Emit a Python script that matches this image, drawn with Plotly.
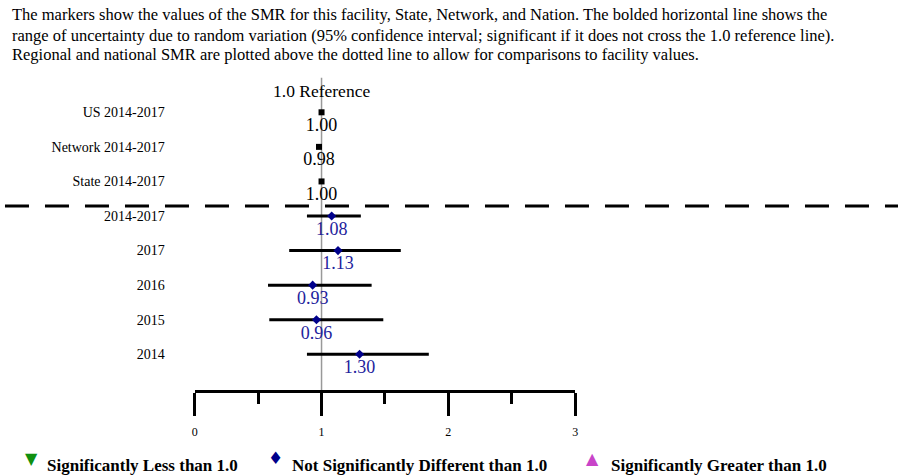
import plotly.graph_objects as go

# ---- data ----
row_labels = ["US 2014-2017", "Network 2014-2017", "State 2014-2017",
              "2014-2017", "2017", "2016", "2015", "2014"]
smr = [1.00, 0.98, 1.00, 1.08, 1.13, 0.93, 0.96, 1.30]
ci_low = [None, None, None, 0.885, 0.745, 0.578, 0.588, 0.885]
ci_high = [None, None, None, 1.31, 1.625, 1.395, 1.487, 1.846]
n_ref = 3  # first three rows are reference (US, Network, State)
x_ticks = [0, 1, 2, 3]
x_tick_labels = ["0", "1", "2", "3"]

W, H = 901, 475
SERIF = "Liberation Serif, Times New Roman, serif"
BLUE = "#00008B"
BLUE_TXT = "#22229c"

rows = list(range(len(row_labels)))
ref_rows = rows[:n_ref]
fac_rows = rows[n_ref:]

fig = go.Figure()

# reference vertical line at 1.0
fig.add_trace(go.Scatter(x=[1, 1], y=[-1, 9], mode="lines",
                         line=dict(color="#999999", width=1.5),
                         hoverinfo="skip", showlegend=False))

# reference rows (US / Network / State)
fig.add_trace(go.Scatter(
    x=smr[:n_ref], y=ref_rows, mode="markers+text",
    marker=dict(symbol="square", size=6, color="black"),
    text=[f"{v:.2f}" for v in smr[:n_ref]], textposition="bottom center",
    textfont=dict(family=SERIF, size=18, color="black"),
    showlegend=False))

# facility rows with CI
lo = ci_low[n_ref:]
hi = ci_high[n_ref:]
vals = smr[n_ref:]
fig.add_trace(go.Scatter(
    x=vals, y=fac_rows, mode="markers+text",
    marker=dict(symbol="diamond", size=7, color=BLUE),
    error_x=dict(type="data", symmetric=False,
                 array=[h - v for h, v in zip(hi, vals)],
                 arrayminus=[v - l for l, v in zip(lo, vals)],
                 color="black", thickness=3, width=0),
    text=[f"{v:.2f}" for v in vals], textposition="bottom center",
    textfont=dict(family=SERIF, size=18, color=BLUE_TXT),
    showlegend=False))

ax_px0, ax_px3 = 193, 576
plot_bottom_px = 390
row0_px, row_step = 112.3, 34.57
y_bottom = (plot_bottom_px - row0_px) / row_step
y_top = (0 - row0_px) / row_step

fig.update_layout(
    width=W, height=H,
    margin=dict(l=0, r=0, t=0, b=0),
    paper_bgcolor="white", plot_bgcolor="white",
    font=dict(family=SERIF, color="black"),
    xaxis=dict(domain=[ax_px0 / W, ax_px3 / W], range=[0, 3],
               showgrid=False, zeroline=False, showline=True,
               linecolor="black", linewidth=2.5,
               ticks="outside", ticklen=23, tickwidth=2.5, tickcolor="black",
               tickvals=x_ticks, ticktext=x_tick_labels,
               tickfont=dict(family=SERIF, size=12, color="black"),
               ticklabelstandoff=6,
               minor=dict(dtick=0.5, ticks="outside", ticklen=11,
                          tickwidth=2.5, tickcolor="black", showgrid=False)),
    yaxis=dict(domain=[(H - plot_bottom_px) / H, 1],
               range=[y_bottom, y_top],
               showgrid=False, zeroline=False, showline=False,
               tickvals=rows, ticktext=row_labels, ticks="",
               tickfont=dict(family=SERIF, size=14, color="black"),
               ticklabelstandoff=29),
    showlegend=False,
)

# dashed separator line
sep_y = (206 - row0_px) / row_step
fig.add_shape(type="line", xref="paper", yref="y", x0=2 / W, x1=1, y0=sep_y, y1=sep_y,
              line=dict(color="black", width=3, dash="24px,16px"))

# "1.0 Reference" label
fig.add_annotation(x=1, y=(91 - row0_px) / row_step, xref="x", yref="y",
                   text="1.0 Reference", showarrow=False,
                   font=dict(family=SERIF, size=17.5, color="black"))

# description text
desc = [
    "The markers show the values of the SMR for this facility, State, Network, and Nation. The bolded horizontal line shows the",
    "range of uncertainty due to random variation (95% confidence interval; significant if it does not cross the 1.0 reference line).",
    "Regional and national SMR are plotted above the dotted line to allow for comparisons to facility values.",
]
for txt, ypx in zip(desc, [15, 35, 54.5]):
    fig.add_annotation(x=7 / W, y=1 - ypx / H, xref="paper", yref="paper",
                       xanchor="left", yanchor="middle", text=txt, showarrow=False,
                       font=dict(family=SERIF, size=16.5, color="black"))

# legend
legend_items = [
    ("▼", "#109010", 16, "Significantly Less than 1.0", 29, 42),
    ("♦", BLUE, 17, "Not Significantly Different than 1.0", 274, 289),
    ("▲", "#c844c8", 16, "Significantly Greater than 1.0", 593, 610),
]
for sym, col, ssize, txt, sx, tx in legend_items:
    fig.add_annotation(x=sx / W, y=1 - 458 / H, xref="paper", yref="paper",
                       xanchor="center", yanchor="middle", text=sym, showarrow=False,
                       font=dict(family="DejaVu Sans", size=ssize, color=col))
    fig.add_annotation(x=tx / W, y=1 - 465 / H, xref="paper", yref="paper",
                       xanchor="left", yanchor="middle", text=f"<b>{txt}</b>", showarrow=False,
                       font=dict(family=SERIF, size=17, color="black"))

fig.write_html("out.html", config={"displayModeBar": False},
               post_script="document.body.style.margin='0px';")
